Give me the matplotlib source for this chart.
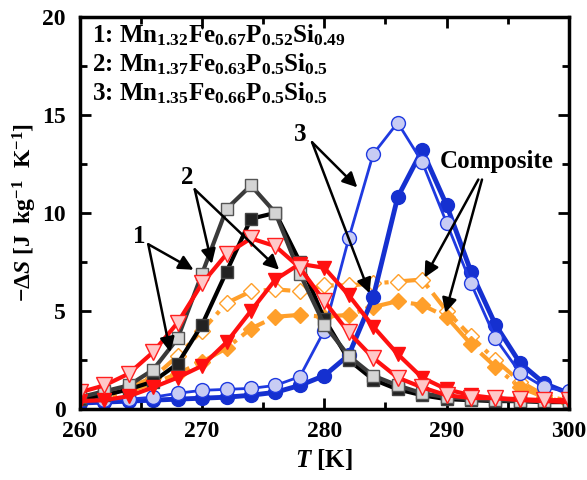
import numpy as np
import matplotlib
matplotlib.use('Agg')
import matplotlib.pyplot as plt
from matplotlib.ticker import MultipleLocator

plt.rcParams['font.family'] = ['Liberation Serif', 'DejaVu Serif']
plt.rcParams['font.weight'] = 'bold'
plt.rcParams['mathtext.fontset'] = 'custom'
plt.rcParams['mathtext.rm'] = 'Liberation Serif:bold'
plt.rcParams['mathtext.it'] = 'Liberation Serif:italic:bold'
plt.rcParams['mathtext.bf'] = 'Liberation Serif:bold'

# temperature grid (K)
T = [260, 262, 264, 266, 268, 270, 272, 274, 276, 278, 280,
     282, 284, 286, 288, 290, 292, 294, 296, 298, 300]

# -dS values (J kg-1 K-1)
s1_open = [0.6, 0.9, 1.2, 2.0, 3.6, 6.9, 10.2, 11.4, 10.0, 6.9, 4.3,
           2.7, 1.7, 1.2, 0.8, 0.6, 0.5, 0.45, 0.4, 0.4, 0.4]
s1_fill = [0.5, 0.7, 1.0, 1.4, 2.3, 4.3, 7.0, 9.7, 10.0, 7.5, 4.6,
           2.5, 1.5, 1.0, 0.7, 0.5, 0.45, 0.4, 0.4, 0.35, 0.35]
s2_open = [0.85, 1.2, 1.8, 2.9, 4.4, 6.4, 7.9, 8.7, 8.3, 7.2, 5.5,
           3.9, 2.6, 1.6, 1.1, 0.7, 0.56, 0.55, 0.5, 0.45, 0.45]
s2_fill = [0.4, 0.45, 0.65, 1.1, 1.6, 2.2, 3.4, 5.0, 6.6, 7.4, 7.2,
           5.8, 4.2, 2.8, 1.6, 1.0, 0.7, 0.55, 0.45, 0.4, 0.35]
s3_open = [0.45, 0.45, 0.5, 0.6, 0.8, 0.95, 1.0, 1.05, 1.2, 1.65, 4.0,
           8.7, 13.0, 14.6, 12.6, 9.5, 6.4, 3.6, 1.85, 1.1, 0.9]
s3_fill = [0.3, 0.35, 0.4, 0.45, 0.5, 0.55, 0.6, 0.7, 0.85, 1.2, 1.7,
           2.75, 5.7, 10.8, 13.2, 10.4, 7.0, 4.3, 2.35, 1.3, 0.8]
comp_open = [0.6, 0.8, 1.1, 1.6, 2.7, 4.0, 5.4, 6.0, 6.1, 6.0, 6.3,
             6.3, 6.4, 6.5, 6.6, 5.0, 3.7, 2.5, 1.4, 0.7, 0.4]
comp_fill = [0.4, 0.6, 0.9, 1.3, 1.8, 2.4, 3.1, 4.1, 4.7, 4.8, 4.7,
             4.8, 5.2, 5.5, 5.3, 4.7, 3.3, 2.15, 1.1, 0.6, 0.3]

labels = ['1: Mn$_{1.32}$Fe$_{0.67}$P$_{0.52}$Si$_{0.49}$',
          '2: Mn$_{1.37}$Fe$_{0.63}$P$_{0.5}$Si$_{0.5}$',
          '3: Mn$_{1.35}$Fe$_{0.66}$P$_{0.5}$Si$_{0.5}$']

fig = plt.figure(figsize=(5.87, 4.8), dpi=100)
ax = fig.add_axes([0.136, 0.148, 0.833, 0.817])

ms = 9
lw = 3
ax.plot(T, comp_open, '-.', color='#ff9f2a', lw=lw, marker='D', ms=ms - 1,
        mfc='white', mec='#ff9f2a', mew=1)
ax.plot(T, comp_fill, '-.', color='#ff9f2a', lw=lw, marker='D', ms=ms - 1,
        mfc='#ff9f2a', mec='#ff9f2a')
ax.plot(T, s3_fill, '-', color='#1530d0', lw=3.5, marker='o', ms=ms + 1,
        mfc='#1530d0', mec='#1530d0')
ax.plot(T, s3_open, '-', color='#1f3ae0', lw=2, marker='o', ms=ms + 1,
        mfc='#c8ccf4', mec='#1f3ae0', mew=1)
ax.plot(T, s1_fill, '-', color='black', lw=lw, marker='s', ms=ms,
        mfc='#222222', mec='#444444', mew=1)
ax.plot(T, s1_open, '-', color='#3a3a3a', lw=lw, marker='s', ms=ms,
        mfc='#d4d4d4', mec='#555555', mew=1)
ax.plot(T, s2_fill, '-', color='#ff1010', lw=lw, marker='v', ms=ms + 1,
        mfc='#ff1010', mec='#ff1010')
ax.plot(T, s2_open, '-', color='#ff1010', lw=lw, marker='v', ms=ms + 2,
        mfc='#ffc8c8', mec='#ff2020', mew=1)

ax.set_xlim(260, 300)
ax.set_ylim(0, 20)
ax.xaxis.set_major_locator(MultipleLocator(10))
ax.xaxis.set_minor_locator(MultipleLocator(5))
ax.yaxis.set_major_locator(MultipleLocator(5))
ax.yaxis.set_minor_locator(MultipleLocator(2.5))
ax.tick_params(which='both', direction='in', top=True, right=True,
               width=2, labelsize=17)
ax.tick_params(axis='x', pad=9)
ax.tick_params(axis='y', pad=10)
ax.tick_params(which='major', length=8)
ax.tick_params(which='minor', length=5)
for sp in ax.spines.values():
    sp.set_linewidth(2.5)
for lb in ax.get_xticklabels() + ax.get_yticklabels():
    lb.set_fontweight('bold')

ax.set_xlabel(r'$T$ [K]', fontsize=18, fontweight='bold', labelpad=3)
ax.set_ylabel(r'$-\Delta S$ [J  kg$^{-1}$  K$^{-1}$]', fontsize=17,
              fontweight='bold', labelpad=2)

for i, txt in enumerate(labels):
    ax.text(0.025, 0.985 - i * 0.074, txt, transform=ax.transAxes,
            fontsize=18, va='top', ha='left')

arr = dict(arrowstyle='-|>', lw=1.8, color='black', mutation_scale=22,
           shrinkA=0, shrinkB=0)
ax.text(264.9, 8.8, '1', fontsize=18, ha='center', va='center')
ax.annotate('', xy=(269.3, 7.1), xytext=(265.6, 8.4), arrowprops=arr)
ax.annotate('', xy=(267.4, 2.9), xytext=(265.6, 8.4), arrowprops=arr)
ax.text(268.8, 11.8, '2', fontsize=18, ha='center', va='center')
ax.annotate('', xy=(270.8, 7.4), xytext=(269.4, 11.2), arrowprops=arr)
ax.annotate('', xy=(276.3, 7.1), xytext=(269.4, 11.2), arrowprops=arr)
ax.text(278.0, 14.0, '3', fontsize=18, ha='center', va='center')
ax.annotate('', xy=(282.7, 11.3), xytext=(279.0, 13.6), arrowprops=arr)
ax.annotate('', xy=(283.7, 5.9), xytext=(279.0, 13.6), arrowprops=arr)
ax.text(294.1, 12.6, 'Composite', fontsize=18, ha='center', va='center')
ax.annotate('', xy=(288.2, 6.7), xytext=(292.6, 11.7), arrowprops=arr)
ax.annotate('', xy=(289.9, 4.9), xytext=(292.9, 11.7), arrowprops=arr)

fig.savefig('out.png', dpi=100)
